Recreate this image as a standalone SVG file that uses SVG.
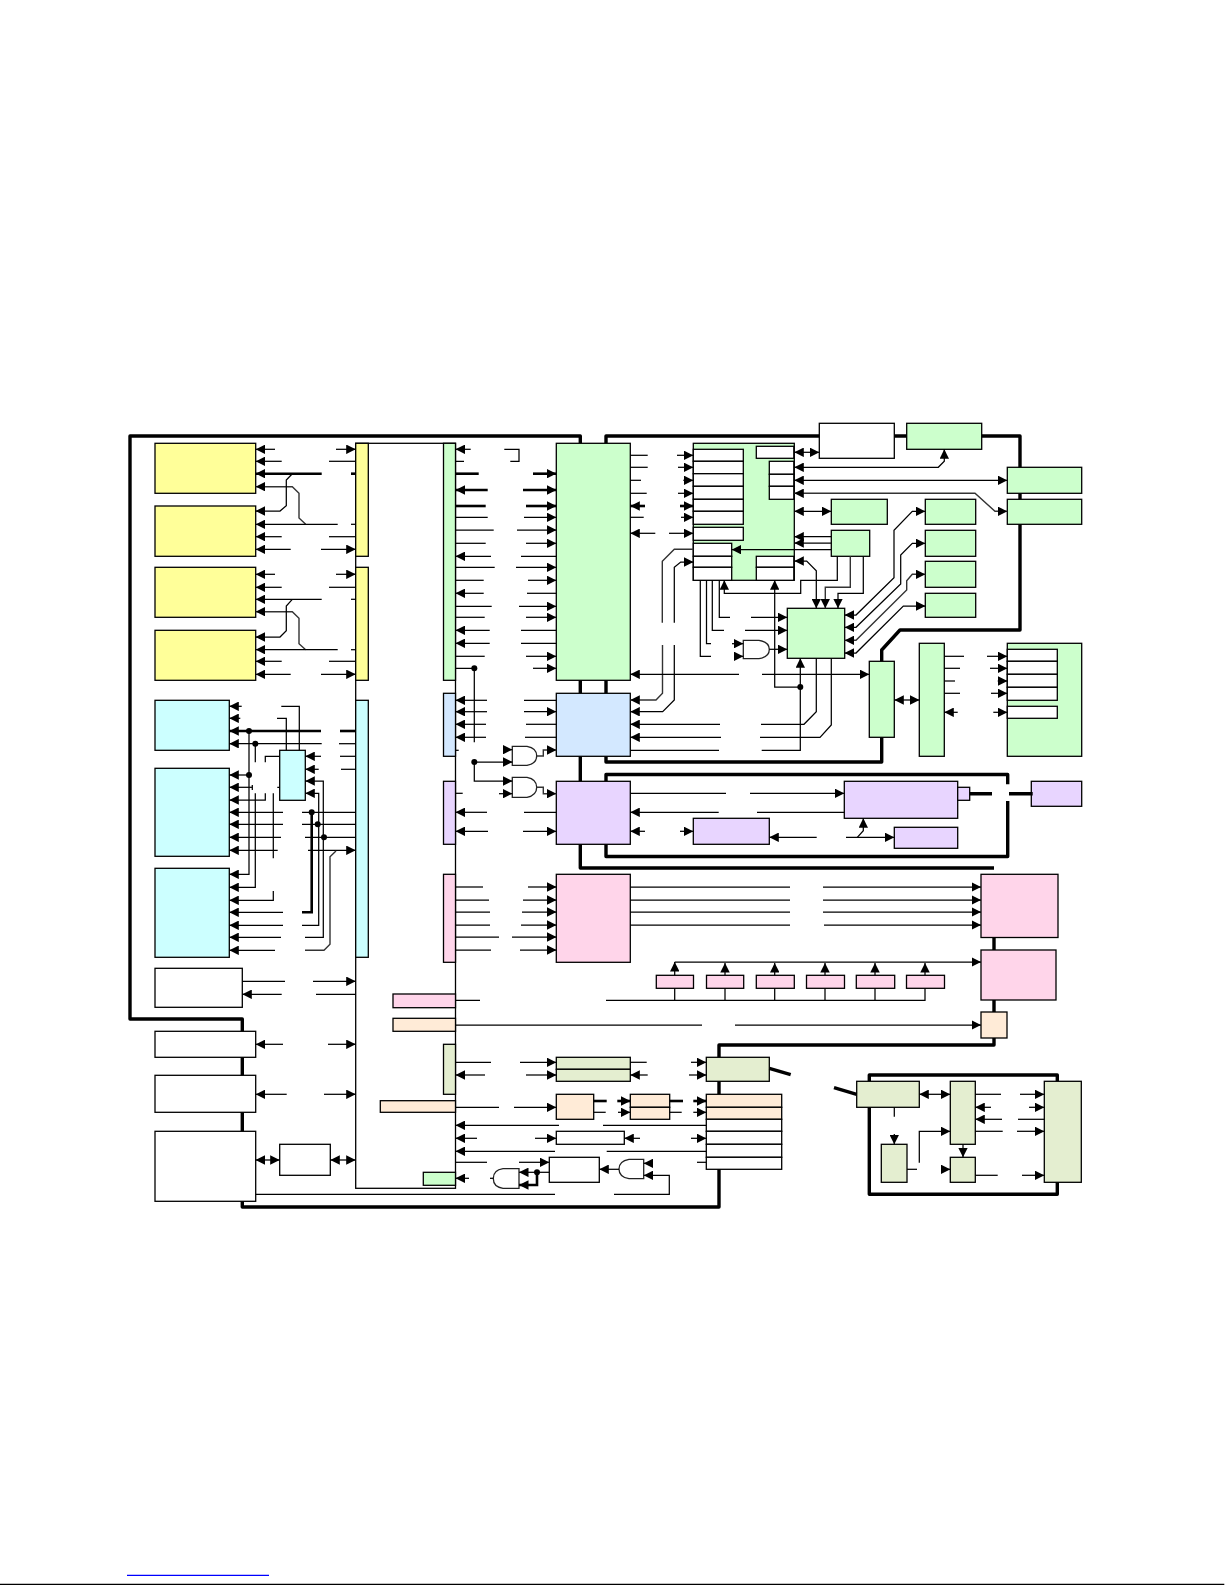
<svg xmlns="http://www.w3.org/2000/svg" width="1225" height="1585" viewBox="0 0 1225 1585">
<style>
rect,.g{stroke:#000;stroke-width:1.3}
.y{fill:#ffff99}.gr{fill:#ccffcc}.c{fill:#ccffff}.bl{fill:#d3e8ff}.p{fill:#e8d5ff}.pk{fill:#ffd5ea}.pe{fill:#ffebd7}.pg{fill:#e4eed0}.w{fill:#fff}
path{fill:none;stroke:#000;stroke-width:1.25}
#frame path{stroke-width:3.4;stroke-linejoin:round}
.t{stroke-width:2.6}
.a{marker-end:url(#h)}
.d{marker-start:url(#h);marker-end:url(#h)}
.gy{stroke:#333;stroke-width:1.4}
.g{fill:#fff;stroke:#222}
circle{fill:#000;stroke:none}
</style>
<defs><marker id="h" markerUnits="userSpaceOnUse" markerWidth="9.5" markerHeight="9.5" refX="8" refY="4" orient="auto-start-reverse" viewBox="0 0 8 8"><path d="M0 0L8 4L0 8Z" style="fill:#000;stroke:none"/></marker></defs>
<rect width="1225" height="1585" style="fill:#fff;stroke:none"/>
<g id="frame">
<path d="M580.3 443V436H130V1019H242.3V1207H719V1169M719 1094V1081M719 1057V1045H994V874M580.3 693V680M580.3 756V781M580.3 844V868H994"/>
<path d="M606 443V436H1020V630H900L881.7 650V661M881.7 737V762H606V756M606 693V680"/>
<path d="M606 781V774.5H1007.7V784.3M1007.7 801V856.5H606V844"/>
<path d="M869.3 1107V1194.3H1057.3V1182M869.3 1081V1075H1057.3V1081"/>
</g>
<g id="nodes">
<g id="main"><rect class="w" x="355.7" y="443.3" width="99.8" height="745"/></g>
<g id="y1"><rect class="y" x="155" y="443.3" width="100.7" height="50"/></g>
<g id="y2"><rect class="y" x="155" y="506" width="100.7" height="50.3"/></g>
<g id="y3"><rect class="y" x="155" y="567.3" width="100.7" height="50"/></g>
<g id="y4"><rect class="y" x="155" y="630.3" width="100.7" height="50"/></g>
<g id="ys1"><rect class="y" x="355.7" y="443.3" width="12.6" height="113"/></g>
<g id="ys2"><rect class="y" x="355.7" y="567.3" width="12.6" height="113"/></g>
<g id="c1"><rect class="c" x="155" y="700.3" width="74.3" height="50"/></g>
<g id="c2"><rect class="c" x="155" y="768.3" width="74.3" height="88"/></g>
<g id="c3"><rect class="c" x="155" y="868.3" width="74.3" height="89"/></g>
<g id="cs"><rect class="c" x="355.7" y="700.3" width="12.6" height="257"/></g>
<g id="c4"><rect class="c" x="279.7" y="750.3" width="25.6" height="50"/></g>
<g id="w1"><rect class="w" x="155" y="968.3" width="87.3" height="39"/></g>
<g id="w2"><rect class="w" x="155" y="1031.3" width="100.7" height="26"/></g>
<g id="w3"><rect class="w" x="155" y="1075.3" width="100.7" height="37"/></g>
<g id="w4"><rect class="w" x="155" y="1131.3" width="100.7" height="70"/></g>
<g id="w5"><rect class="w" x="279.7" y="1144.3" width="50.6" height="31"/></g>
<g id="s1"><rect class="gr" x="443.5" y="443.3" width="12" height="237"/></g>
<g id="s2"><rect class="bl" x="443.5" y="693.3" width="12" height="63"/></g>
<g id="s3"><rect class="p" x="443.5" y="781.3" width="12" height="63"/></g>
<g id="s4"><rect class="pk" x="443.5" y="874.3" width="12" height="88"/></g>
<g id="s5"><rect class="pk" x="393" y="994" width="62.5" height="13.7"/></g>
<g id="s6"><rect class="pe" x="393" y="1018.3" width="62.5" height="13"/></g>
<g id="s7"><rect class="pg" x="443.5" y="1044.3" width="12" height="50"/></g>
<g id="s8"><rect class="pe" x="380.3" y="1100.7" width="75.2" height="11.6"/></g>
<g id="s9"><rect class="gr" x="423.3" y="1172.3" width="32.2" height="13"/></g>
<g id="n1"><rect class="gr" x="556.3" y="443.3" width="74" height="237"/></g>
<g id="n2"><rect class="bl" x="556.3" y="693.3" width="74" height="63"/></g>
<g id="n3"><rect class="p" x="556.3" y="781.3" width="74" height="63"/></g>
<g id="n4"><rect class="pk" x="556.3" y="874.3" width="74" height="88"/></g>
<g id="n5"><rect class="pg" x="556.3" y="1057.3" width="74" height="12"/><rect class="pg" x="556.3" y="1069.3" width="74" height="12"/></g>
<g id="n6"><rect class="pe" x="556.3" y="1094.3" width="37.4" height="25"/></g>
<g id="n7"><rect class="pe" x="630.3" y="1094.3" width="39.4" height="13"/><rect class="pe" x="630.3" y="1107.3" width="39.4" height="12"/></g>
<g id="n8"><rect class="w" x="556.3" y="1131.3" width="68" height="13"/></g>
<g id="n9"><rect class="w" x="549.3" y="1157.3" width="50" height="25"/></g>
<g id="table">
<rect class="gr" x="693.3" y="443.3" width="101" height="137"/>
<rect class="w" x="693.3" y="449.3" width="50" height="12"/><rect class="w" x="693.3" y="461.3" width="50" height="12.4"/><rect class="w" x="693.3" y="473.7" width="50" height="12.6"/><rect class="w" x="693.3" y="486.3" width="50" height="13"/><rect class="w" x="693.3" y="499.3" width="50" height="12"/><rect class="w" x="693.3" y="511.3" width="50" height="13"/>
<rect class="w" x="693.3" y="527.3" width="50" height="13"/>
<rect class="w" x="693.3" y="543.3" width="38.4" height="13"/><rect class="w" x="693.3" y="556.3" width="38.4" height="11"/><rect class="w" x="693.3" y="567.3" width="38.4" height="13"/>
<rect class="w" x="756.3" y="446.3" width="37.5" height="12"/>
<rect class="w" x="769.3" y="461.3" width="24.5" height="13"/><rect class="w" x="769.3" y="474.3" width="24.5" height="12"/><rect class="w" x="769.3" y="486.3" width="24.5" height="13"/>
<rect class="w" x="756.3" y="556.3" width="37.5" height="11"/><rect class="w" x="756.3" y="567.3" width="37.5" height="13"/>
</g>
<g id="g1"><rect class="w" x="819.3" y="423.3" width="75" height="35"/></g>
<g id="g2"><rect class="gr" x="906.7" y="423.3" width="75" height="26"/></g>
<g id="g3"><rect class="gr" x="1007.3" y="467.3" width="74.4" height="26"/></g>
<g id="g4"><rect class="gr" x="1007.3" y="499.3" width="74.4" height="25"/></g>
<g id="g5"><rect class="gr" x="831.3" y="499.3" width="56" height="25"/></g>
<g id="g6"><rect class="gr" x="831.3" y="530.3" width="38.4" height="26"/></g>
<g id="b1"><rect class="gr" x="925.3" y="499.3" width="50.4" height="25"/></g>
<g id="b2"><rect class="gr" x="925.3" y="530.3" width="50.4" height="26"/></g>
<g id="b3"><rect class="gr" x="925.3" y="561.3" width="50.4" height="26"/></g>
<g id="b4"><rect class="gr" x="925.3" y="593.3" width="50.4" height="24"/></g>
<g id="hub"><rect class="gr" x="787.3" y="608.3" width="57.4" height="50"/></g>
<g id="gate1"><path class="g" d="M743.3 640.3H759Q769.3 642 769.3 649.5Q769.3 657 759 658.7H743.3Z"/></g>
<g id="ga"><rect class="gr" x="869.3" y="661.3" width="25" height="76"/></g>
<g id="gb"><rect class="gr" x="919.3" y="643.3" width="25" height="113"/></g>
<g id="gc"><rect class="gr" x="1007.3" y="643.3" width="74.4" height="113"/>
<rect class="w" x="1007.3" y="649.3" width="50" height="12"/><rect class="w" x="1007.3" y="661.3" width="50" height="13"/><rect class="w" x="1007.3" y="674.3" width="50" height="13"/><rect class="w" x="1007.3" y="687.3" width="50" height="13"/><rect class="w" x="1007.3" y="706.3" width="50" height="12"/></g>
<g id="gate2"><path class="g" d="M512.3 746.3H527Q536.7 748 536.7 755.8Q536.7 763.6 527 765.3H512.3Z"/></g>
<g id="gate3"><path class="g" d="M512.3 777.3H527Q536.7 779 536.7 787.3Q536.7 795.6 527 797.3H512.3Z"/></g>
<g id="gate4"><path class="g" d="M643.7 1159.3H629Q619 1161 619 1169Q619 1177 629 1178.7H643.7Z"/></g>
<g id="gate5"><path class="g" d="M519 1168.7H503Q493.3 1170 493.3 1178.5Q493.3 1187 503 1188.3H519Z"/></g>
<g id="p1"><rect class="p" x="693.3" y="818.3" width="76" height="26"/></g>
<g id="p2"><rect class="p" x="844.3" y="781.3" width="113.4" height="37"/></g>
<g id="p3"><rect class="p" x="957.7" y="787.3" width="12" height="13"/></g>
<g id="p4"><rect class="p" x="894.3" y="827.3" width="63.4" height="21"/></g>
<g id="p5"><rect class="p" x="1031.3" y="781.3" width="50.4" height="25"/></g>
<g id="k1"><rect class="pk" x="981" y="874.3" width="77" height="63.2"/></g>
<g id="k2"><rect class="pk" x="981" y="950" width="75" height="50"/></g>
<g id="k3"><rect class="pe" x="981" y="1012" width="26" height="26"/></g>
<g id="m1"><rect class="pk" x="656.3" y="975.3" width="37.2" height="13"/></g>
<g id="m2"><rect class="pk" x="706.5" y="975.3" width="37.2" height="13"/></g>
<g id="m3"><rect class="pk" x="756.3" y="975.3" width="38" height="13"/></g>
<g id="m4"><rect class="pk" x="806.5" y="975.3" width="38" height="13"/></g>
<g id="m5"><rect class="pk" x="856.3" y="975.3" width="38.4" height="13"/></g>
<g id="m6"><rect class="pk" x="906.5" y="975.3" width="38" height="13"/></g>
<g id="t1"><rect class="pg" x="706.3" y="1057.3" width="63" height="24"/></g>
<g id="t2">
<rect class="pe" x="706.3" y="1094.3" width="75.4" height="13"/><rect class="pe" x="706.3" y="1107.3" width="75.4" height="12"/><rect class="w" x="706.3" y="1119.3" width="75.4" height="12"/><rect class="w" x="706.3" y="1131.3" width="75.4" height="13"/><rect class="w" x="706.3" y="1144.3" width="75.4" height="13"/><rect class="w" x="706.3" y="1157.3" width="75.4" height="12"/></g>
<g id="r1"><rect class="pg" x="856.7" y="1081.3" width="62.6" height="26"/></g>
<g id="r2"><rect class="pg" x="950.3" y="1081.3" width="25" height="63"/></g>
<g id="r3"><rect class="pg" x="1044.3" y="1081.3" width="37" height="101"/></g>
<g id="r4"><rect class="pg" x="881.3" y="1144.3" width="25.7" height="38"/></g>
<g id="r5"><rect class="pg" x="950.3" y="1157.3" width="25" height="25"/></g>
</g>
<g id="connectors">
<path class="a" d="M275 449.3H255.7"/><path class="a" d="M336 449.3H355.7"/>
<path class="a" d="M281.7 461.3H255.7"/><path d="M329 461.3H355.7"/>
<path class="a t" d="M321.7 473.7H255.7"/><path class="t" d="M351 473.7H355.7"/>
<path class="a gy" d="M305.7 524.3L299 518V493.3L292.3 486.7H255.7"/>
<path class="a" d="M292.3 473.7L286.3 480V505.7L280 511H255.7"/>
<path class="a" d="M337.7 524.3H255.7"/><path d="M351 524.3H355.7"/>
<path class="a" d="M281.7 536.7H255.7"/><path d="M329 536.7H355.7"/>
<path class="a" d="M290.7 549.3H255.7"/><path class="a" d="M321 549.3H355.7"/>
<path class="a" d="M275 574.3H255.7"/><path class="a" d="M336 574.3H355.7"/>
<path class="a" d="M281.7 587.3H255.7"/><path d="M329 587.3H355.7"/>
<path class="a" d="M321.7 599.3H255.7"/><path d="M351 599.3H355.7"/>
<path class="a gy" d="M305.7 649.7L299 643.7V618.3L292.3 611.7H255.7"/>
<path class="a" d="M292.3 599.3L286.3 606V630.7L280 637H255.7"/>
<path class="a" d="M337.7 649.7H255.7"/><path d="M351 649.7H355.7"/>
<path class="a" d="M281.7 661.3H255.7"/><path d="M329 661.3H355.7"/>
<path class="a" d="M290.7 674.3H255.7"/><path class="a" d="M321 674.3H355.7"/>
<path class="a" d="M241.7 706.3H229.3"/><path class="a" d="M240.3 718.3H229.3"/>
<path class="a t" d="M321 731H229.3"/><path class="t" d="M340 731H355.7"/>
<path class="a" d="M321.7 743.7H229.3"/><path d="M339 743.7H355.7"/>
<path d="M281.3 706.3H299.3V750.3M277 718.3H286.3V750.3"/>
<path class="a" d="M321 756.3H305.3"/><path d="M340 756.3H355.7"/>
<path class="a" d="M318.7 769.3H305.3"/><path d="M341 769.3H355.7"/>
<path class="a" d="M305 937.3H323.3V781H305.3"/>
<path class="a" d="M302 925.3H318.7V793.3H305.3"/>
<path class="a" d="M249 731V874.3H229.3"/>
<path d="M255.3 743.7V762.3"/><path class="a" d="M255.3 793.3V887.3H229.3"/>
<path class="a" d="M249 775H229.3"/><path class="a" d="M252.3 787.3H229.3"/><path d="M252.3 785V790"/>
<path class="a" d="M265.3 793.3V800H229.3"/><path d="M265.3 762.3V756.3H279.7M277.3 787.3H279.7"/>
<path class="a" d="M273.3 891V900.3H229.3"/><path d="M273.3 793.3V858.3"/>
<path class="a" d="M283 812.3H229.3"/><path d="M302 812.3H355.7"/>
<path class="a" d="M283 824.3H229.3"/><path d="M302 824.3H355.7"/>
<path class="a" d="M281 837.3H229.3"/><path d="M305 837.3H355.7"/>
<path class="a" d="M277.7 850.3H229.3"/><path class="a" d="M308 850.3H355.7"/>
<path class="t" d="M311.7 812.3V912.3H302"/>
<path class="a" d="M283 912.3H229.3"/>
<path class="a" d="M283 925.3H229.3"/>
<path class="a" d="M281 937.3H229.3"/>
<path class="a" d="M275 950.3H229.3"/>
<path class="gy" d="M305 950.3H324L330 944.3V856.7L336 851"/>
<circle cx="249" cy="731" r="3"/><circle cx="255.3" cy="743.7" r="3"/><circle cx="249" cy="775" r="3"/><circle cx="311.7" cy="812.3" r="3"/><circle cx="317.7" cy="824.3" r="3"/><circle cx="324" cy="837.3" r="3"/>
<path d="M242.3 981.3H285"/><path class="a" d="M313 981.3H355.7"/>
<path class="a" d="M281.7 994.3H242.3"/><path d="M316 994.3H355.7"/>
<path class="a" d="M283 1044.3H255.7"/><path class="a" d="M328 1044.3H355.7"/>
<path class="a" d="M286.7 1094.3H255.7"/><path class="a" d="M324 1094.3H355.7"/>
<path class="d" d="M255.7 1160H279.7"/><path class="d" d="M330.3 1160H355.7"/>
<path d="M255.7 1194.3H555"/><path class="a" d="M614 1194.3H669.3V1175.3H643.7"/>
<path class="a" d="M470.7 449.3H455.5"/><path d="M504.3 449.3H519V461.3H510.3M455.5 461.3H464"/>
<path class="t" d="M455.5 473.7H478.7"/><path class="a t" d="M533 473.7H556.3"/>
<path class="a t" d="M487.7 490H455.5"/><path class="a t" d="M523 490H556.3"/>
<path class="t" d="M455.5 506H485.7"/><path class="a t" d="M526 506H556.3"/>
<path d="M455.5 517.3H487.7"/><path class="a" d="M524 517.3H556.3"/>
<path d="M455.5 530H493.7"/><path class="a" d="M517 530H556.3"/>
<path d="M455.5 543.3H485.7"/><path class="a" d="M526 543.3H556.3"/>
<path class="a" d="M491 556.3H455.5"/><path d="M521 556.3H556.3"/>
<path d="M455.5 567.3H494.7"/><path class="a" d="M516 567.3H556.3"/>
<path d="M455.5 580.3H483.7"/><path class="a" d="M528 580.3H556.3"/>
<path class="a" d="M483.7 593.3H455.5"/><path d="M527 593.3H556.3"/>
<path d="M455.5 606.3H491.7"/><path class="a" d="M519 606.3H556.3"/>
<path d="M455.5 617.3H484.7"/><path class="a" d="M526 617.3H556.3"/>
<path class="a" d="M489.7 630.3H455.5"/><path d="M521 630.3H556.3"/>
<path class="a" d="M489.7 643.3H455.5"/><path d="M521 643.3H556.3"/>
<path d="M455.5 656.3H484.7"/><path class="a" d="M526 656.3H556.3"/>
<path d="M455.5 668.3H474.3V742.3"/><path class="a" d="M533 668.3H556.3"/>
<circle cx="474.3" cy="668.3" r="3"/>
<path d="M630.3 455.3H647.7"/><path class="a" d="M677 455.3H693.3"/>
<path d="M630.3 467.3H647.7"/><path class="a" d="M678 467.3H693.3"/>
<path d="M630.3 480.3H641"/><path class="a" d="M683.3 480.3H693.3"/>
<path d="M630.3 493.3H646.7"/><path class="a" d="M678 493.3H693.3"/>
<path class="a t" d="M645 506H630.3"/><path class="a t" d="M680 506H693.3"/>
<path d="M630.3 517.3H643.7"/><path class="a" d="M681 517.3H693.3"/>
<path class="a" d="M655.3 533.3H630.3"/><path class="a" d="M669 533.3H693.3"/>
<path class="gy" d="M693.3 549.3H674.3L662.3 561.3V622.7"/><path class="a gy" d="M662.5 645V693.3L656 700H630.3"/>
<path class="a" d="M674.3 622.7V567.3L680.7 562H693.3"/><path class="a" d="M674.3 645V700L662.7 711.7H630.3"/>
<path d="M700.3 580.3V656.3H711M706.5 580.3V643.5H711M712.3 580.3V630.3H724M719.3 580.3V617.3H730"/>
<path class="a" d="M735 656.3H743.3"/><path class="a" d="M732 643.7H743.3"/>
<path class="a" d="M745 630.3H787.3"/><path class="a" d="M751 617.3H787.3"/>
<path class="a" d="M769.3 649.3H787.3"/>
<path class="a" d="M739 674.3H630.3"/><path class="a" d="M762 674.3H869.3"/>
<path class="d" d="M794.3 561H806.7L816.3 570.7V608.3"/>
<path class="a gy" d="M850.3 556.3V587.3H825.3V608.3"/>
<path class="a" d="M863.3 556.3V593.3H838V608.3"/>
<path class="a" d="M837.3 556.3V580.3H800.7V593.3H724.3V580.3"/>
<path class="a" d="M831.3 536.7H794.3"/><path class="a" d="M831.3 543H794.3"/><path class="a" d="M831.3 549.7H731.7"/>
<path class="d" d="M794.3 511.3H831.3"/>
<path class="d" d="M794.3 452.3H819.3"/>
<path class="d" d="M794.3 467.3H938.3L944.3 461.3V449.3"/>
<path class="d" d="M794.3 480.3H1007.3"/>
<path class="d gy" d="M794.3 493.3H975L995 511.3H1007.3"/>
<path class="d" d="M925.3 511.3H912.3L894 530.3V577.7L856 615H844.7"/>
<path class="d" d="M925.3 543.3H912.3L900.7 555V584L856 627.3H844.7"/>
<path class="d gy" d="M925.3 574.3H912.3L906.7 580.7V590L856 640.3H844.7"/>
<path class="d" d="M925.3 606H903.3L856 653H844.7"/>
<path class="a" d="M761.7 750.3H800.3V658.3"/><path d="M630.3 750.3H719"/>
<path class="a" d="M800.3 687H774.7V580.3"/><circle cx="800.3" cy="687" r="3"/>
<path d="M816.3 658.3V711.7L804 724.3H761"/><path class="a" d="M720 724.3H630.3"/>
<path d="M831.3 658.3V725L820 737.3H760"/><path class="a" d="M721 737.3H630.3"/>
<path class="d" d="M894.3 700H919.3"/>
<path d="M944.3 656.3H964"/><path class="a" d="M987 656.3H1007.3"/>
<path d="M944.3 668.3H960"/><path class="a" d="M990 668.3H1007.3"/>
<path d="M944.3 681H955"/><path class="a" d="M997.7 681H1007.3"/>
<path d="M944.3 693.3H960"/><path class="a" d="M991 693.3H1007.3"/>
<path class="a" d="M957.7 712.3H944.3"/><path class="a" d="M993.3 712.3H1007.3"/>
<path class="a" d="M487 700.3H455.5"/><path d="M524 700.3H556.3"/>
<path class="a" d="M487 711.7H455.5"/><path class="a" d="M524 711.7H556.3"/>
<path class="a" d="M486 724.3H455.5"/><path d="M526 724.3H556.3"/>
<path class="a" d="M486 737.3H455.5"/><path d="M525 737.3H556.3"/>
<path d="M455.5 750.3H458.7"/>
<path class="a" d="M503 749.7H512.3"/>
<path class="a" d="M474.3 762H512.3"/>
<path class="a" d="M474.3 762V781H512.3"/>
<circle cx="474.3" cy="762" r="3"/>
<path class="a gy" d="M536.7 756H543.3V750H556.3"/>
<path class="a" d="M499 793.7H512.3"/>
<path class="a gy" d="M536.7 787.3H543.3V793.7H556.3"/>
<path d="M455.5 793.3H462.7"/>
<path class="a" d="M487 812.3H455.5"/><path d="M524 812.3H556.3"/>
<path class="a" d="M488 831.3H455.5"/><path class="a" d="M523 831.3H556.3"/>
<path d="M630.3 793.3H726"/><path class="a" d="M750 793.3H844.3"/>
<path class="a" d="M718.7 812.3H630.3"/><path d="M757 812.3H844.3"/>
<path class="a" d="M645 831.3H630.3"/><path class="a" d="M680 831.3H693.3"/>
<path class="a" d="M816.7 837.3H769.3"/>
<path class="a" d="M846 837.3H894.3"/>
<path class="a" d="M857.3 837.3L863.3 830.7V818.3"/>
<path d="M969.7 793.7H992M1009 793.7H1032.7" style="stroke-width:3.4"/>
<path d="M455.5 887H483"/><path class="a" d="M528 887H556.3"/>
<path d="M455.5 900H489"/><path class="a" d="M523 900H556.3"/>
<path d="M455.5 912H490"/><path class="a" d="M522 912H556.3"/>
<path d="M455.5 925H490"/><path class="a" d="M521 925H556.3"/>
<path d="M455.5 937H499"/><path class="a" d="M512 937H556.3"/>
<path d="M455.5 950H491"/><path class="a" d="M520 950H556.3"/>
<path d="M630.3 887H790"/><path class="a" d="M823 887H981"/>
<path d="M630.3 900H790"/><path class="a" d="M823 900H981"/>
<path d="M630.3 912H790"/><path class="a" d="M823 912H981"/>
<path d="M630.3 925H790"/><path class="a" d="M824 925H981"/>
<path class="a" d="M674.7 962H981"/>
<path class="a" d="M674.7 975.3V962"/><path class="a" d="M725 975.3V963"/><path class="a" d="M774.7 975.3V963"/><path class="a" d="M825 975.3V963"/><path class="a" d="M875 975.3V963"/><path class="a" d="M925 975.3V963"/>
<path d="M606 1000.3H925V988.3M674.7 1000.3V988.3M725 1000.3V988.3M774.7 1000.3V988.3M825 1000.3V988.3M875 1000.3V988.3M455.5 1000.3H480"/>
<path d="M455.5 1025H702"/><path class="a" d="M735 1025H981"/>
<path d="M455.5 1062.3H491"/><path class="a" d="M520 1062.3H556.3"/>
<path class="a" d="M485 1075H455.5"/><path class="a" d="M526 1075H556.3"/>
<path d="M630.3 1062.3H646.7"/><path class="a" d="M691 1062.3H706.3"/>
<path class="a" d="M647.7 1075H630.3"/><path class="a" d="M689 1075H706.3"/>
<path d="M769.3 1068.3L790.7 1074.7" style="stroke-width:3.4"/>
<path d="M455.5 1107.3H499"/><path class="a" d="M514 1107.3H556.3"/>
<path class="t" d="M593.7 1101H606.7"/><path class="a t" d="M617.3 1101H630.3"/>
<path d="M593.7 1112.3H605.7"/><path class="a" d="M618 1112.3H630.3"/>
<path class="t" d="M669.7 1101H683"/><path class="a t" d="M693.3 1101H706.3"/>
<path d="M669.7 1112.3H681.7"/><path class="a" d="M693.3 1112.3H706.3"/>
<path class="a" d="M559 1125.3H455.5"/><path d="M603 1125.3H706.3"/>
<path class="a" d="M477 1138.3H455.5"/><path class="a" d="M535 1138.3H556.3"/>
<path class="a" d="M640 1138.3H624.3"/><path class="a" d="M691 1138.3H706.3"/>
<path class="a" d="M555 1151.3H455.5"/><path d="M606.7 1151.3H706.3"/>
<path d="M455.5 1162.3H487"/><path class="a" d="M519 1162.3H549.3"/><path d="M697 1162.3H706.3"/>
<path class="a" d="M619 1169.3H599.3"/>
<path class="a" d="M652.3 1163.3H643.7"/>
<path d="M493.3 1178.3H490"/><path class="a" d="M469 1178.3H455.5"/>
<path class="a" d="M549.3 1172.3H519"/>
<path class="a t" d="M537 1172.3V1185H519"/>
<circle cx="537" cy="1172.3" r="3"/>
<path d="M834 1087.7L856.7 1094.3" style="stroke-width:3.4"/>
<path class="d" d="M919.3 1094.3H950.3"/>
<path d="M894.3 1107.3V1116.7"/><path class="a" d="M894.3 1134V1144.3"/>
<path d="M907 1169.3H917"/><path class="a" d="M941.7 1169.3H950.3"/>
<path class="a" d="M919.3 1162.7V1131.3H950.3"/>
<path class="a" d="M963 1144.3V1157.3"/>
<path d="M975.3 1094.3H1001"/><path class="a" d="M1020 1094.3H1044.3"/>
<path class="a" d="M991 1107.3H975.3"/><path class="a" d="M1029 1107.3H1044.3"/>
<path class="a" d="M1002 1119.3H975.3"/><path d="M1018 1119.3H1044.3"/>
<path d="M975.3 1131.3H1002.7"/><path class="a" d="M1017 1131.3H1044.3"/>
<path d="M975.3 1175.3H997.7"/><path class="a" d="M1022 1175.3H1044.3"/>
</g>
<path d="M127 1575.3H269" style="stroke:#00f"/>
<path d="M0 1584.4H1224.3" style="stroke-width:1.2"/>
</svg>
